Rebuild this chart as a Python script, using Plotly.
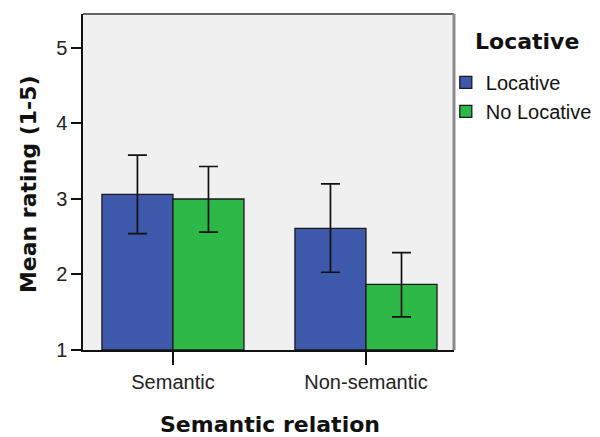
import plotly.graph_objects as go

categories = ["Semantic", "Non-semantic"]
series_names = ["Locative", "No Locative"]
locative_mean = [3.06, 2.61]
locative_upper = [3.58, 3.20]
locative_lower = [2.54, 2.03]
nolocative_mean = [3.00, 1.87]
nolocative_upper = [3.43, 2.29]
nolocative_lower = [2.56, 1.44]
y_ticks = [1, 2, 3, 4, 5]

colors = ["#3E58AC", "#2EB848"]
title_font = dict(family="DejaVu Sans, Verdana, sans-serif", size=22, color="#111111")

fig = go.Figure()
for name, mean, up, lo, col in [
    (series_names[0], locative_mean, locative_upper, locative_lower, colors[0]),
    (series_names[1], nolocative_mean, nolocative_upper, nolocative_lower, colors[1]),
]:
    fig.add_trace(go.Bar(
        x=categories, y=[m - 1 for m in mean], base=1, name=name,
        marker=dict(color=col, line=dict(color="#1a1a1a", width=1.3)),
        error_y=dict(type="data", symmetric=False,
                     array=[u - m for u, m in zip(up, mean)],
                     arrayminus=[m - l for m, l in zip(mean, lo)],
                     color="#111111", thickness=1.7, width=9.5),
        hoverinfo="skip",
    ))

fig.update_layout(
    width=600, height=437,
    margin=dict(l=83, r=146, t=14, b=87, autoexpand=False),
    paper_bgcolor="white", plot_bgcolor="#F0F0F0",
    barmode="group", bargap=0.264, bargroupgap=0,
    font=dict(family="Liberation Sans, Arial, sans-serif", size=20, color="#222222"),
    legend=dict(
        xref="container", yref="container",
        x=0.743, xanchor="left", y=0.856, yanchor="top",
        font=dict(family="Liberation Sans, Arial, sans-serif", size=20, color="#111111"),
        bgcolor="rgba(0,0,0,0)", itemwidth=30, tracegroupgap=0, borderwidth=0,
    ),
    showlegend=True,
)
fig.update_xaxes(
    range=[-0.466, 1.456], showgrid=False, showline=True, linecolor="#111111", linewidth=1.5,
    ticks="outside", ticklen=13, tickcolor="#111111", tickwidth=1.5,
    tickfont=dict(size=20, color="#222222"), automargin=False,
)
fig.update_yaxes(
    range=[1, 5.45], tickvals=y_ticks, showgrid=False, showline=True, linecolor="#111111", linewidth=1.5,
    ticks="outside", ticklen=10, tickcolor="#111111", tickwidth=1.5,
    tickfont=dict(size=20, color="#222222"), zeroline=False, automargin=False,
)
# axis titles and legend title
fig.add_annotation(text="<b>Semantic relation</b>", xref="paper", yref="paper",
                   x=0.504, y=-0.223, xanchor="center", yanchor="middle",
                   showarrow=False, font=title_font)
fig.add_annotation(text="<b>Mean rating (1-5)</b>", xref="paper", yref="paper",
                   x=-0.148, y=0.494, xanchor="center", yanchor="middle", textangle=-90,
                   showarrow=False, font=title_font)
fig.add_annotation(text="<b>Locative</b>", xref="paper", yref="paper",
                   x=1.198, y=0.917, xanchor="center", yanchor="middle",
                   showarrow=False, font=title_font)
# plot frame: dark top, gray right
fig.add_shape(type="line", xref="paper", yref="paper", x0=0, x1=1, y0=1, y1=1, line=dict(color="#333333", width=1.5))
fig.add_shape(type="line", xref="paper", yref="paper", x0=1, x1=1, y0=0, y1=1, line=dict(color="#8a8a8a", width=3))

fig.write_html("out.html", config={"displayModeBar": False},
               post_script="document.body.style.margin='0';")
